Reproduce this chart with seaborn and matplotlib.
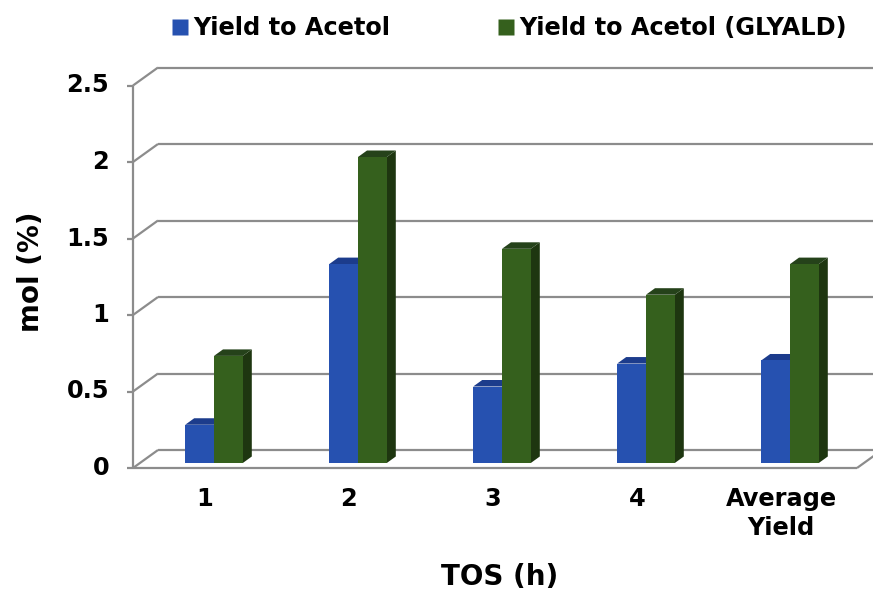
import numpy as np
import pandas as pd
import matplotlib
matplotlib.use("Agg")
import matplotlib.pyplot as plt
from matplotlib.patches import Polygon
from matplotlib.lines import Line2D
import seaborn as sns

# Acetol yields per time on stream
categories = ["1", "2", "3", "4", "Average\nYield"]
yield_acetol = [0.25, 1.3, 0.5, 0.65, 0.67]
yield_acetol_glyald = [0.7, 2.0, 1.4, 1.1, 1.3]
series_names = ["Yield to Acetol", "Yield to Acetol (GLYALD)"]
y_ticks = [0, 0.5, 1, 1.5, 2, 2.5]

front_colors = ["#2651b0", "#35601d"]
top_colors = ["#1c3c8c", "#25421a"]
side_colors = ["#17306f", "#1e3610"]
grid_color = "#8c8c8c"

sns.set_theme(style="white")
plt.rcParams["font.family"] = ["DejaVu Sans"]
plt.rcParams["font.weight"] = "bold"
plt.rcParams["text.color"] = "black"

df = pd.DataFrame({
    "TOS": categories * 2,
    "value": yield_acetol + yield_acetol_glyald,
    "series": [series_names[0]] * len(categories) + [series_names[1]] * len(categories),
})

W, H = 873, 595
fig = plt.figure(figsize=(W / 100, H / 100), dpi=100)
# plane of the bar fronts, in pixels (top-left origin)
px_left, px_right = 142, 862
px_zero, px_top = 463, 80.5
ax = fig.add_axes([px_left / W, (H - px_zero) / H,
                   (px_right - px_left) / W, (px_zero - px_top) / H])

sns.barplot(data=df, x="TOS", y="value", hue="series", order=categories,
            hue_order=series_names, palette=front_colors, width=0.4,
            saturation=1, linewidth=0, legend=False, ax=ax, zorder=3)

ax.set_xlim(-0.5, 4.5)
ax.set_ylim(0, 2.5)
ax.axis("off")

# pixel -> data conversion
ux = 5.0 / (px_right - px_left)
uy = 2.5 / (px_zero - px_top)

def off(dx, dy):
    return dx * ux, dy * uy

front = off(-9, -5)
back = off(16, 13)
depth = off(9, 6.5)

x0, x1 = -0.5, 4.5
x1_front = x1 + off(-5, 0)[0]
line_kw = dict(color=grid_color, lw=1.6, clip_on=False, zorder=1,
               solid_capstyle="butt")

tick_fs = 17.3

# back wall gridlines and left wall diagonals
for v in y_ticks:
    ax.plot([x0 + back[0], x1 + back[0] + 0.2], [v + back[1]] * 2, **line_kw)
    ax.plot([x0 + front[0], x0 + back[0]], [v + front[1], v + back[1]], **line_kw)
    # tick marks on the front axis
    ax.plot([x0 + front[0] - 6 * ux, x0 + front[0]], [v + front[1]] * 2, **line_kw)
    ax.text(x0 + front[0] - 24 * ux, v + front[1], f"{v:g}", ha="right",
            va="center", fontsize=tick_fs, fontweight="bold", color="black")

# front axis and floor outline
ax.plot([x0 + front[0]] * 2, [front[1], 2.5 + front[1]], **line_kw)
ax.plot([x0 + front[0], x1_front], [front[1]] * 2, **line_kw)
ax.plot([x1_front, x1_front + back[0] - front[0]], [front[1], back[1]], **line_kw)

# 3D top and side faces of every bar
for i, patch in enumerate(ax.patches):
    k = 0 if i < len(categories) else 1
    bx, by = patch.get_x(), patch.get_y()
    bw, bh = patch.get_width(), patch.get_height()
    dx, dy = depth
    top = Polygon([(bx, by + bh), (bx + bw, by + bh),
                   (bx + bw + dx, by + bh + dy), (bx + dx, by + bh + dy)],
                  closed=True, facecolor=top_colors[k], edgecolor="none",
                  zorder=2, clip_on=False)
    side = Polygon([(bx + bw, by), (bx + bw + dx, by + dy),
                    (bx + bw + dx, by + bh + dy), (bx + bw, by + bh)],
                   closed=True, facecolor=side_colors[k], edgecolor="none",
                   zorder=2, clip_on=False)
    ax.add_patch(side)
    ax.add_patch(top)

# category labels on the front plane
for i, c in enumerate(categories):
    ax.text(i + front[0], -24 * uy, c, ha="center", va="top", fontsize=tick_fs,
            fontweight="bold", color="black", linespacing=1.28)

fig.text(500 / W, 1 - 577 / H, "TOS (h)", ha="center", va="center",
         fontsize=20, fontweight="bold", color="black")
fig.text(31 / W, 1 - 272 / H, "mol (%)", ha="center", va="center",
         rotation=90, fontsize=20, fontweight="bold", color="black")

handles = [Line2D([0], [0], marker="s", linestyle="none", markersize=11.5,
                  markerfacecolor=c, markeredgecolor="none") for c in front_colors]
fig.legend(handles, series_names, loc="center left",
           bbox_to_anchor=(172 / W, 1 - 28 / H), ncol=2, frameon=False,
           prop=dict(size=tick_fs, weight="bold"), borderpad=0,
           borderaxespad=0, handlelength=0.7, handletextpad=0.2,
           columnspacing=4.45, labelcolor="black")

fig.savefig("out.png", dpi=100)
